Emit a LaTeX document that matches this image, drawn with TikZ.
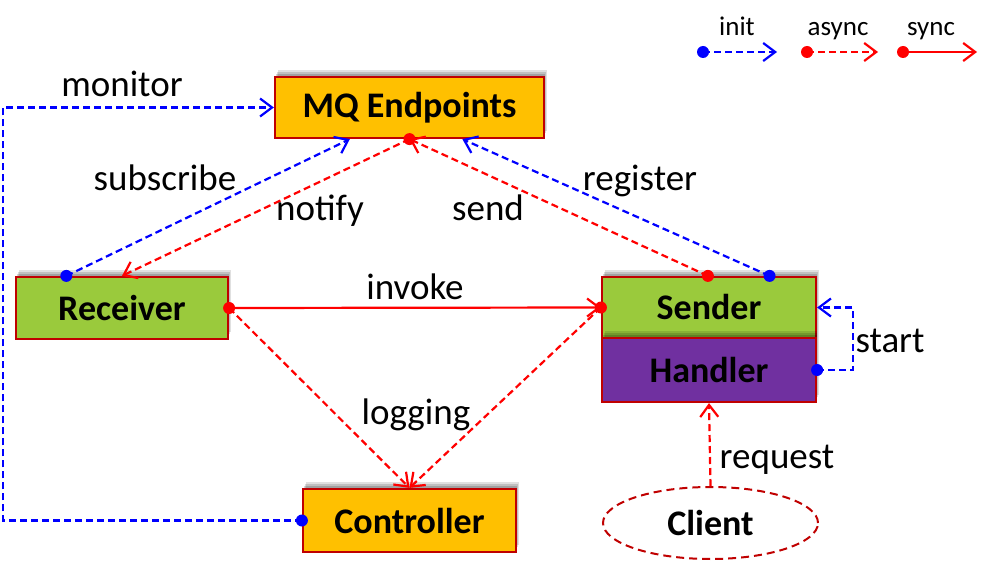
\documentclass[tikz,border=0pt]{standalone}
\usepackage{fontspec}
\setmainfont{Carlito}
\usetikzlibrary{arrows.meta,shapes.geometric,shadows,calc}
\definecolor{boxred}{HTML}{C00000}
\definecolor{mqorange}{HTML}{FFC000}
\definecolor{recgreen}{HTML}{9ACA3C}
\definecolor{hdlpurple}{HTML}{7030A0}
\definecolor{initblue}{HTML}{0000FF}
\definecolor{asyncred}{HTML}{FF0000}
\begin{document}
\begin{tikzpicture}[x=1pt,y=-1pt,
  box/.style={draw=boxred, line width=2.2pt, inner sep=0pt,
    font=\fontsize{36}{40}\selectfont\bfseries,
    general shadow={fill=black, opacity=0.12, shadow xshift=3pt, shadow yshift=7pt},
    general shadow={fill=black, opacity=0.14, shadow xshift=2pt, shadow yshift=5pt},
    general shadow={fill=black, opacity=0.16, shadow xshift=1pt, shadow yshift=3pt}},
  lbl/.style={font=\fontsize{37}{40}\selectfont, anchor=base, inner sep=0pt},
  leg/.style={font=\fontsize{27}{30}\selectfont, anchor=base, inner sep=0pt},
  conn/.style={line width=2.2pt, -{Straight Barb[length=12pt,width=18pt]}},
  initc/.style={conn, initblue, dash pattern=on 7pt off 4pt},
  asyncc/.style={conn, asyncred, dash pattern=on 7pt off 4pt},
  syncc/.style={conn, asyncred},
  bdot/.style={fill=initblue},
  rdot/.style={fill=asyncred}
]
\useasboundingbox (0,0) rectangle (991,575);

% nodes
\node[box, fill=mqorange, minimum width=269pt, minimum height=61pt] (mq) at (409.5,107.5) {MQ Endpoints};
\node[box, fill=recgreen, minimum width=212pt, minimum height=62pt] (rec) at (122,308) {Receiver};
\node[box, fill=recgreen, minimum width=214pt, minimum height=61pt] (snd) at (709,307.5) {Sender};
\node[box, fill=hdlpurple, minimum width=214pt, minimum height=64pt] (hdl) at (709,370) {Handler};
\node[box, fill=mqorange, minimum width=213pt, minimum height=63pt] (ctl) at (409.5,520.5) {Controller};
\node[draw=boxred, ellipse, line width=2pt, dash pattern=on 8pt off 5pt, inner sep=0pt,
  minimum width=215pt, minimum height=72pt, font=\fontsize{36}{40}\selectfont\bfseries] (cli) at (710.5,523) {Client};

% helper coordinates
\coordinate (monx) at (3,0);
\coordinate (stx) at (853,0);
\coordinate (subA) at ($(rec.north west)!0.24!(rec.north east)$);
\coordinate (subB) at ($(mq.south west)!0.28!(mq.south east)$);
\coordinate (sndA) at ($(snd.north west)!0.495!(snd.north east)$);
\coordinate (regA) at ($(snd.north west)!0.78!(snd.north east)$);
\coordinate (regB) at ($(mq.south west)!0.695!(mq.south east)$);

% connectors
\draw[initc] (ctl.west) -- (ctl.west -| monx) |- (mq.west);
\draw[initc] (subA) -- (subB);
\draw[asyncc] (mq.south) -- (rec.north);
\draw[asyncc] (sndA) -- (mq.south);
\draw[initc] (regA) -- (regB);
\draw[syncc] (rec.east) -- (snd.west);
\draw[asyncc] (rec.east) -- (ctl.north);
\draw[asyncc] (snd.west) -- (ctl.north);
\draw[initc] (hdl.east) -- (hdl.east -| stx) |- (snd.east);
\draw[asyncc] (cli.north) -- (hdl.south);

% dots
\fill[bdot] (ctl.west) circle (6);
\fill[bdot] (subA) circle (6);
\fill[rdot] (mq.south) circle (6);
\fill[rdot] (sndA) circle (6);
\fill[bdot] (regA) circle (6);
\fill[rdot] (rec.east) circle (6);
\fill[rdot] (snd.west) circle (6);
\fill[bdot] (hdl.east) circle (6);

% labels
\node[lbl] (lmon) at (122,97) {monitor};
\node[lbl] (lsub) at (165,190) {subscribe};
\node[lbl] (lnot) at (320,220) {notify};
\node[lbl] (lsnd) at (488,220) {send};
\node[lbl] (lreg) at (640,190) {register};
\node[lbl] (linv) at (415,299) {invoke};
\node[lbl] (llog) at (416,424) {logging};
\node[lbl] (lsta) at (890,352) {start};
\node[lbl] (lreq) at (777,468) {request};

% legend
\node[leg] (tinit) at (737,36) {init};
\node[leg] (tasync) at (838,36) {async};
\node[leg] (tsync) at (931,36) {sync};
\coordinate (li1) at (703,52); \coordinate (li2) at (777,52);
\coordinate (la1) at (807,52); \coordinate (la2) at (878,52);
\coordinate (ls1) at (903,52); \coordinate (ls2) at (977,52);
\draw[initc] (li1) -- (li2);
\draw[asyncc] (la1) -- (la2);
\draw[syncc] (ls1) -- (ls2);
\fill[bdot] (li1) circle (6);
\fill[rdot] (la1) circle (6);
\fill[rdot] (ls1) circle (6);
\end{tikzpicture}
\end{document}
